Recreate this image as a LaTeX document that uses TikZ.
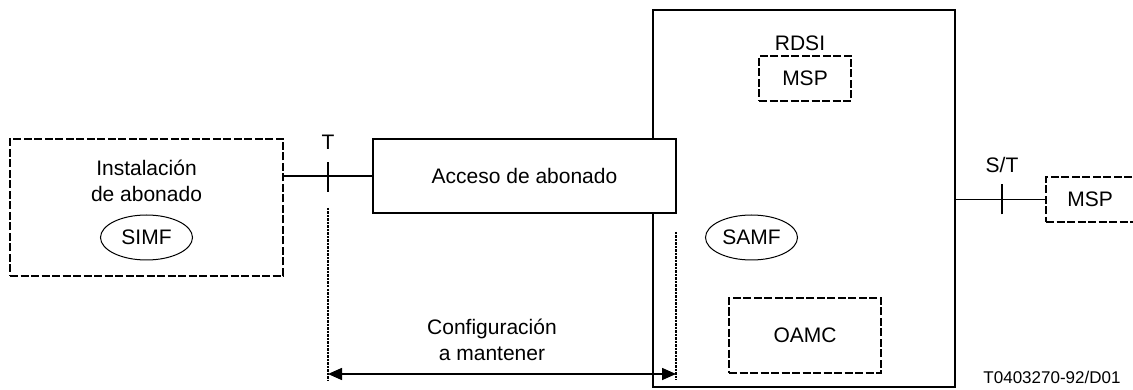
\documentclass[tikz,border=0pt]{standalone}
\usepackage{fontspec}
\setmainfont{Liberation Sans}
\usetikzlibrary{arrows.meta,shapes.geometric}
\tikzset{
  blk/.style = {draw=black, line width=1.3pt, rectangle, align=center,
    inner sep=0pt, font=\fontsize{21}{26}\selectfont},
  blk_d/.style = {blk, dash pattern=on 8pt off 2.5pt, line width=1.5pt},% bloque discontinuo
  fn/.style = {draw=black, line width=1pt, ellipse, inner sep=0pt,
    minimum width=92pt, minimum height=45pt, font=\fontsize{21}{26}\selectfont},
  lbl/.style = {inner sep=0pt, align=center, font=\fontsize{21}{26}\selectfont},
  lim/.style = {line width=1.6pt, dash pattern=on 2.5pt off 1pt}% limite punteado
}

\begin{document}
\begin{tikzpicture}[x=1pt,y=-1pt,line width=1.6pt]
  \useasboundingbox (0,0) rectangle (1133,390);
  % bloques
  \node [blk_d, minimum width=273pt, minimum height=137pt] (inst) at (146.5,207.5) {};
  \node [lbl] (insttxt) at (146.5,181) {Instalación\\de abonado};
  \node [fn] (simf) at (146.5,237.5) {SIMF};
  \node [blk, minimum width=302pt, minimum height=377pt] (rdsi) at (804,198.5) {};
  \node [blk, fill=white, minimum width=303pt, minimum height=74pt] (acc) at (524.5,176) {Acceso de abonado};
  \node [lbl] (rdsitxt) at (800,43) {RDSI};
  \node [blk_d, minimum width=92pt, minimum height=45pt] (msp) at (805,78.5) {MSP};
  \node [fn] (samf) at (751.5,237.5) {SAMF};
  \node [blk_d, minimum width=152pt, minimum height=75pt] (oamc) at (805,335.5) {OAMC};
  \node [blk_d, minimum width=94pt, minimum height=45pt] (msp2) at (1093,199.5) {};
  \node [lbl] (msp2txt) at (1090,199.5) {MSP};
  % puntos de referencia
  \coordinate (T) at (328,177);
  \coordinate (ST) at (1002,199.5);
  \draw (inst.east |- acc.west) -- (acc.west);
  \draw ([yshift=-15pt]T) -- ([yshift=15pt]T);
  \node [lbl] (Ttxt) at (328,142) {T};
  \draw (rdsi.east |- msp2.west) -- (msp2.west);
  \draw ([yshift=-15pt]ST) -- ([yshift=15pt]ST);
  \node [lbl] (STtxt) at (1002,165) {S/T};
  % configuracion a mantener
  \coordinate (c1a) at (328,208);
  \coordinate (c1b) at (328,380);
  \coordinate (c2a) at (676,232);
  \coordinate (c2b) at (676,380);
  \draw [lim] (c1a) -- (c1b);
  \draw [lim] (c2a) -- (c2b);
  \coordinate (f1) at (328,374);
  \coordinate (f2) at (676,374);
  \draw [{Triangle[length=14pt,width=12pt]}-{Triangle[length=14pt,width=12pt]}, line width=1.6pt] (f1) -- (f2);
  \node [lbl] (conf) at (492,340) {Configuración\\a mantener};
  \node [inner sep=0pt, font=\fontsize{17}{20}\selectfont] (ref) at (1052,377) {T0403270-92/D01};
\end{tikzpicture}
\end{document}
